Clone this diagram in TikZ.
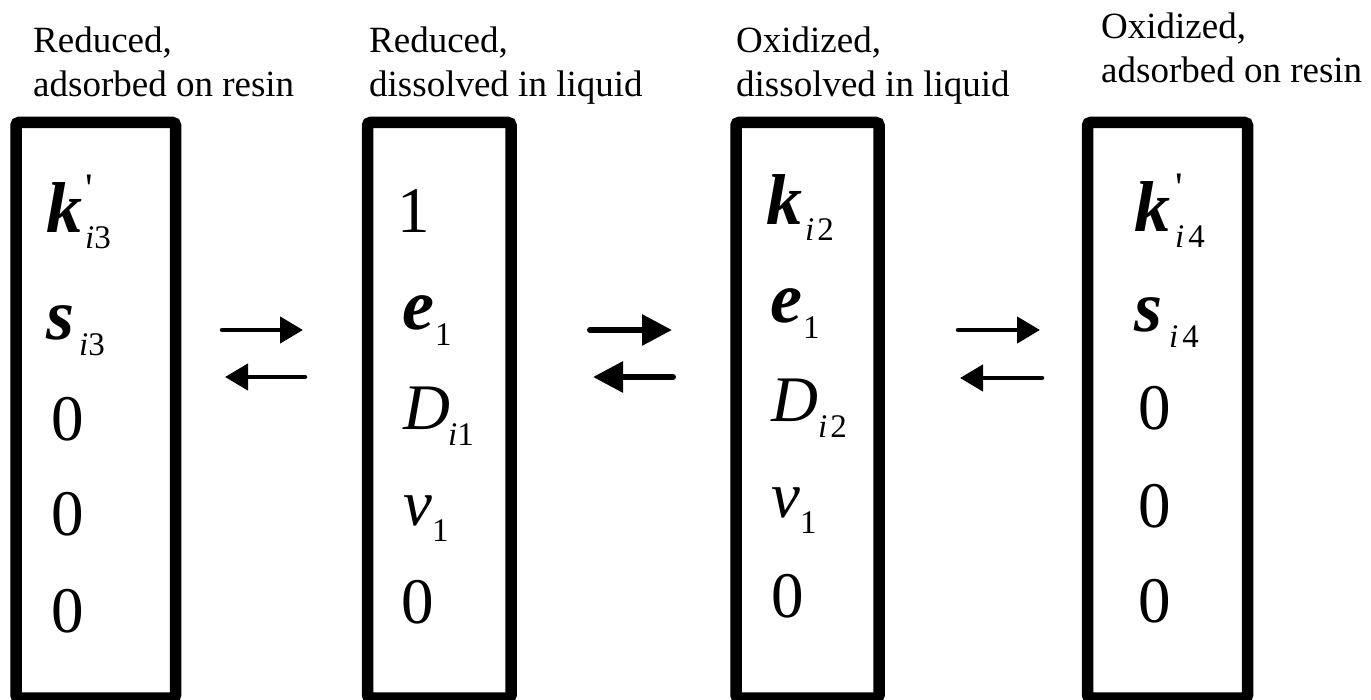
\documentclass[tikz,border=0pt]{standalone}
\usepackage{fontspec}
\setmainfont{Liberation Serif}
\usetikzlibrary{arrows.meta}
\newcommand{\bigsz}{\fontsize{65}{65}\selectfont}
\newcommand{\bbigsz}{\fontsize{72}{72}\selectfont}
\newcommand{\subsz}{\fontsize{33}{33}\selectfont}
\newcommand{\labsz}{\fontsize{37}{44}\selectfont}
% bold italic symbol
\newcommand{\bsym}[1]{{\bbigsz\bfseries\itshape #1}}
\newcommand{\isym}[1]{{\bigsz\itshape #1}}
\newcommand{\rsym}[1]{{\bigsz #1}}
\newcommand{\sbs}[1]{\raisebox{-16pt}{\subsz #1}}
\newcommand{\prm}{\rlap{\raisebox{30pt}{\fontsize{42}{42}\selectfont\textquotesingle}}}
\tikzset{
  box/.style={draw, line width=11.5pt, rounded corners=3pt, minimum height=575.5pt, inner sep=0pt},
  ent/.style={anchor=base west, inner sep=0pt},
  lab/.style={anchor=base west, inner sep=0pt, font=\labsz},
  thinarr/.style={line width=4.5pt, line cap=round, -{Triangle[length=23pt,width=26pt]}},
  thickarr/.style={line width=6pt, line cap=round, -{Triangle[length=30pt,width=30pt]}}
}
\begin{document}
\begin{tikzpicture}[x=1pt,y=-1pt]
\useasboundingbox (0,0) rectangle (1371,700);
% boxes
\node[box, minimum width=159.5pt] (b1) at (95.75,410.25) {};
\node[box, minimum width=143.5pt] (b2) at (439.25,410.25) {};
\node[box, minimum width=143pt] (b3) at (807.5,410.25) {};
\node[box, minimum width=160pt] (b4) at (1167.5,410.25) {};
% labels
\node[lab] (l1a) at (33,53) {Reduced,};
\node[lab] (l1b) at (33,97) {adsorbed on resin};
\node[lab] (l2a) at (369,53) {Reduced,};
\node[lab] (l2b) at (369,97) {dissolved in liquid};
\node[lab] (l3a) at (736,53) {Oxidized,};
\node[lab] (l3b) at (736,97) {dissolved in liquid};
\node[lab] (l4a) at (1101,39) {Oxidized,};
\node[lab] (l4b) at (1101,83) {adsorbed on resin};
% box 1
\node[ent] (e11) at (46,233) {\bsym{k}\kern3pt\prm\sbs{\itshape i\upshape 3}};
\node[ent] (e12) at (46,340) {\bsym{s}\kern5pt\sbs{\itshape i\upshape 3}};
\node[ent] (e13) at (51,440) {\rsym{0}};
\node[ent] (e14) at (51,535) {\rsym{0}};
\node[ent] (e15) at (51,632) {\rsym{0}};
% box 2
\node[ent] (e21) at (397,233) {\rsym{1}};
\node[ent] (e22) at (402,330) {\bsym{e}\kern1pt\sbs{1}};
\node[ent] (e23) at (403,430) {\isym{D}\kern-2pt\sbs{\itshape i\upshape 1}};
\node[ent] (e24) at (403,525) {\isym{v}\kern0pt\sbs{1}};
\node[ent] (e25) at (401,623) {\rsym{0}};
% box 3
\node[ent] (e31) at (766,225) {\bsym{k}\kern3pt\sbs{\itshape i\kern3pt\upshape 2}};
\node[ent] (e32) at (770,323) {\bsym{e}\kern1pt\sbs{1}};
\node[ent] (e33) at (771,422) {\isym{D}\kern0pt\sbs{\itshape i\kern3pt\upshape 2}};
\node[ent] (e34) at (771,517) {\isym{v}\kern0pt\sbs{1}};
\node[ent] (e35) at (771,617) {\rsym{0}};
% box 4
\node[ent] (e41) at (1134,232) {\bsym{k}\kern5pt\prm\sbs{\itshape i\kern4pt\upshape 4}};
\node[ent] (e42) at (1134,332) {\bsym{s}\kern7pt\sbs{\itshape i\kern4pt\upshape 4}};
\node[ent] (e43) at (1138,430) {\rsym{0}};
\node[ent] (e44) at (1138,527) {\rsym{0}};
\node[ent] (e45) at (1138,622) {\rsym{0}};
% arrow end points
\coordinate (p1a) at (222,330); \coordinate (p1b) at (303,330);
\coordinate (p1c) at (305,377); \coordinate (p1d) at (225,377);
\coordinate (p2a) at (590,330); \coordinate (p2b) at (672,330);
\coordinate (p2c) at (673,377); \coordinate (p2d) at (593,377);
\coordinate (p3a) at (958,330); \coordinate (p3b) at (1040,330);
\coordinate (p3c) at (1042,378); \coordinate (p3d) at (960,378);
\draw[thinarr] (p1a) -- (p1b);
\draw[thinarr] (p1c) -- (p1d);
\draw[thickarr] (p2a) -- (p2b);
\draw[thickarr] (p2c) -- (p2d);
\draw[thinarr] (p3a) -- (p3b);
\draw[thinarr] (p3c) -- (p3d);
\end{tikzpicture}
\end{document}
